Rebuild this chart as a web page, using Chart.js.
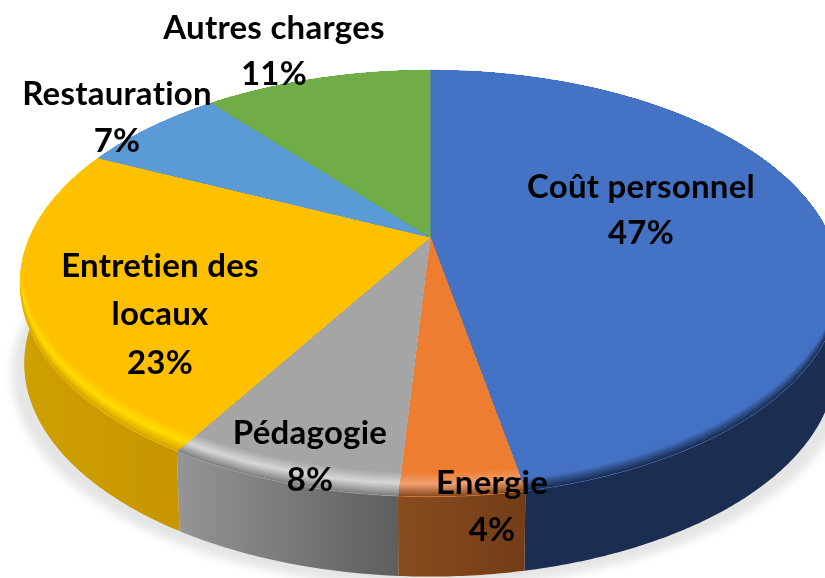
<!DOCTYPE html>
<html><head><meta charset="utf-8">
<style>html,body{margin:0;padding:0;background:#fff}canvas{display:block;filter:blur(0.6px)}</style>
<script src="https://cdn.jsdelivr.net/npm/chart.js@4"></script>
</head><body>
<div style="width:825px;height:578px"><canvas id="c" width="825" height="578"></canvas></div>
<script>
const categories = ["Coût personnel","Energie","Pédagogie","Entretien des locaux","Restauration","Autres charges"];
const shares = [47,4,7.6,23.4,7,11];
const topColors = ["#4472C4","#ED7D31","#A5A5A5","#FFC000","#5B9BD5","#70AD47"];
const wallLeft  = ["#1B2D50","#8A4C20","#959595","#CFA000","#2F5F8F","#44682C"];
const wallRight = ["#1B2D50","#723D17","#5E5E5E","#C79600","#2F5F8F","#44682C"];
const rimLight  = ["#4472C4","#F0A070","#D6D6D6","#FFDC00","#5B9BD5","#70AD47"];
const rimEdge   = ["#1B2D50","#8A4C20","#808080","#D8A400","#3F6F9F","#4F7A33"];
const labelLines = [["Coût personnel"],["Energie"],["Pédagogie"],["Entretien des","locaux"],["Restauration"],["Autres charges"]];
const labelAnchors = [[641,187],[492,483],[310,433],[160,266],[117,94],[274,28]];
const lineGaps = [46,47,47,48.5,47,46];

/* perspective view of the pie disc */
const view = {cx:430, cy:237, ax:400, ay:203, k:0.218, depth:80, bottomScale:0.99, bevel:24};
function project(angle, r, dy, sx){
  const X = r*Math.cos(angle), Y = r*Math.sin(angle), w = 1 - view.k*Y;
  return [view.cx + (sx||1)*view.ax*X/w, view.cy + view.ay*Y/w + (dy||0)];
}
function trace(ctx, a0, a1, dy, sx, first){
  const n = Math.max(2, Math.ceil(Math.abs(a1-a0)/0.01));
  for(let i=0;i<=n;i++){
    const p = project(a0+(a1-a0)*i/n, 1, dy, sx);
    if(i===0 && first) ctx.moveTo(p[0],p[1]); else ctx.lineTo(p[0],p[1]);
  }
}
function mix(c1,c2,t){
  const h=c=>[1,3,5].map(i=>parseInt(c.substr(i,2),16));
  const a=h(c1),b=h(c2);
  return "rgb("+a.map((v,i)=>Math.round(v+(b[i]-v)*t)).join(",")+")";
}
const pie3d = {
  id:"pie3d",
  beforeDatasetsDraw(chart){
    const ctx = chart.ctx, arcs = chart.getDatasetMeta(0).data, TAU = Math.PI*2;
    /* ground shadow */
    ctx.save();
    ctx.fillStyle="rgba(0,0,0,0.10)"; ctx.filter="blur(4px)"; ctx.beginPath();
    trace(ctx,0,TAU,view.depth+10,1.02,true); ctx.closePath(); ctx.fill();
    ctx.restore();
    /* side walls */
    arcs.forEach((arc,i)=>{
      const a0=arc.startAngle, a1=arc.endAngle;
      const xs=[]; for(let t=0;t<=20;t++) xs.push(project(a0+(a1-a0)*t/20,1)[0]);
      const g=ctx.createLinearGradient(Math.min(...xs),0,Math.max(...xs),0);
      g.addColorStop(0,wallLeft[i]); g.addColorStop(1,wallRight[i]);
      ctx.fillStyle=g; ctx.beginPath();
      trace(ctx,a0,a1,0,1,true); trace(ctx,a1,a0,view.depth,view.bottomScale,false);
      ctx.closePath(); ctx.fill();
    });
    /* top faces with bevel */
    arcs.forEach((arc,i)=>{
      const a0=arc.startAngle, a1=arc.endAngle, base=arc.options.backgroundColor;
      const wedge=()=>{ctx.beginPath();ctx.moveTo(view.cx,view.cy);trace(ctx,a0,a1,0,1,false);ctx.closePath();};
      ctx.save();
      wedge(); ctx.fillStyle=base; ctx.fill();
      ctx.strokeStyle=base; ctx.lineWidth=0.8; ctx.stroke();
      wedge(); ctx.clip();
      for(let d=0;d<=view.bevel;d++){
        const t=d/view.bevel;
        ctx.fillStyle = t<0.5 ? mix(rimEdge[i],rimLight[i],t/0.5) : mix(rimLight[i],base,(t-0.5)/0.5);
        ctx.beginPath(); trace(ctx,0,TAU,-d,1,true); ctx.closePath(); ctx.fill();
      }
      ctx.restore();
    });
    /* labels */
    ctx.fillStyle="#000"; ctx.textAlign="center"; ctx.textBaseline="middle";
    ctx.font="700 33px Lato"; ctx.letterSpacing="0.25px";
    arcs.forEach((arc,i)=>{
      const lines=labelLines[i].concat([Math.round(shares[i])+"%"]);
      lines.forEach((s,j)=>ctx.fillText(s,labelAnchors[i][0],labelAnchors[i][1]+j*lineGaps[i]));
    });
    return false;
  }
};
new Chart(document.getElementById("c"),{
  type:"pie",
  data:{labels:categories,datasets:[{data:shares,backgroundColor:topColors,borderWidth:0}]},
  options:{responsive:false,animation:false,plugins:{legend:{display:false},tooltip:{enabled:false}}},
  plugins:[pie3d]
});
</script></body></html>
